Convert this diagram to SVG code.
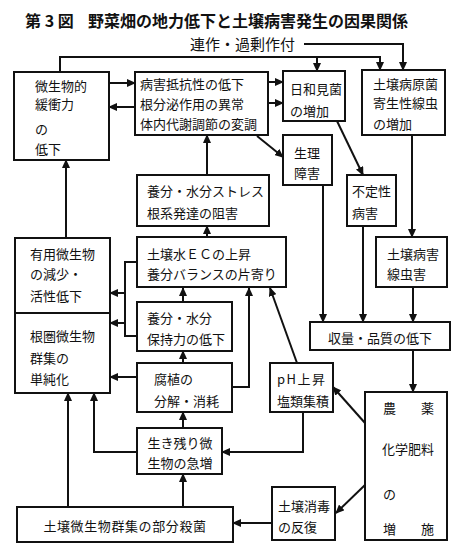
<svg xmlns="http://www.w3.org/2000/svg" width="465" height="555" viewBox="0 0 465 555">
<style>
text{font-family:"Noto Sans CJK JP","Noto Sans CJK SC",sans-serif;font-size:13px;fill:#111;dominant-baseline:central}
.title{font-size:16px;font-weight:bold}
.big{font-size:15px}
.box{fill:#fff;stroke:#111;stroke-width:2}
.c{fill:none;stroke:#111;stroke-width:2}
.a{marker-end:url(#ah)}
</style>
<defs>
<marker id="ah" markerUnits="userSpaceOnUse" markerWidth="9" markerHeight="8" refX="8" refY="4" orient="auto"><path d="M0,0 L9,4 L0,8 z" fill="#111"/></marker>
</defs>
<rect width="465" height="555" fill="#fff"/>
<g id="title"><text class="title" x="25" y="20">第 3 図</text><text class="title" x="88" y="20">野菜畑の地力低下と土壌病害発生の因果関係</text></g>
<g id="connectors">
<path class="c" d="M304,44 H403 V70"/><path class="c a" d="M403,60 V70"/>
<path class="c" d="M60,72 V57 H380 V70"/><path class="c a" d="M380,62 V70"/>
<path class="c a" d="M317,57 V71"/>
<path class="c a" d="M109,83 H135"/>
<path class="c a" d="M135,107 H109"/>
<path class="c a" d="M268,82 H283"/>
<path class="c a" d="M268,103 H283"/>
<path class="c a" d="M257,136 L283,157"/>
<path class="c a" d="M337,121 L363,175"/>
<path class="c a" d="M412,135 V237"/>
<path class="c a" d="M323,185 V322"/>
<path class="c a" d="M363,226 V322"/>
<path class="c a" d="M413,287 V322"/>
<path class="c a" d="M413,350 V392"/>
<path class="c a" d="M365,423 L333,387"/>
<path class="c a" d="M365,485 L336,513"/>
<path class="c a" d="M272,523 H233"/>
<path class="c a" d="M68,507 V393"/>
<path class="c a" d="M183,507 V474"/>
<path class="c" d="M137,452 H94 V400"/><path class="c a" d="M94,402 V393"/>
<path class="c" d="M303,412 V452 H230"/><path class="c a" d="M232,452 H222"/>
<path class="c a" d="M183,428 V412"/>
<path class="c a" d="M137,377 H110"/>
<path class="c" d="M232,387 H249 V296"/><path class="c a" d="M249,298 V288"/>
<path class="c a" d="M183,363 V351"/>
<path class="c a" d="M183,302 V288"/>
<path class="c" d="M137,262 H125 V336 H137"/>
<path class="c a" d="M125,293 H110"/>
<path class="c a" d="M125,323 H110"/>
<path class="c a" d="M297,363 L270,288"/>
<path class="c a" d="M207,237 V226"/>
<path class="c a" d="M207,175 V135"/>
<path class="c a" d="M66,238 V160"/>
</g>
<g id="n0"><text class="big" x="190" y="43">連作・過剰作付</text></g>
<g id="n1"><rect class="box" x="14" y="72" width="95" height="88"/><text x="35" y="85">微生物的</text><text x="35" y="103">緩衝力</text><text x="35" y="128">の</text><text x="35" y="148">低下</text></g>
<g id="n2"><rect class="box" x="135" y="72" width="133" height="63"/><text x="140" y="83">病害抵抗性の低下</text><text x="140" y="103">根分泌作用の異常</text><text x="140" y="123">体内代謝調節の変調</text></g>
<g id="n3"><rect class="box" x="283" y="71" width="62" height="50"/><text x="290" y="88">日和見菌</text><text x="290" y="110">の増加</text></g>
<g id="n4"><rect class="box" x="362" y="70" width="83" height="65"/><text x="373" y="83">土壌病原菌</text><text x="373" y="102">寄生性線虫</text><text x="373" y="123">の増加</text></g>
<g id="n5"><rect class="box" x="283" y="135" width="49" height="50"/><text x="294" y="152">生理</text><text x="294" y="172">障害</text></g>
<g id="n6"><rect class="box" x="347" y="175" width="49" height="51"/><text x="352" y="190">不定性</text><text x="352" y="212">病害</text></g>
<g id="n7"><rect class="box" x="376" y="237" width="71" height="50"/><text x="387" y="253">土壌病害</text><text x="387" y="273">線虫害</text></g>
<g id="n8"><rect class="box" x="310" y="322" width="140" height="28"/><text x="380" y="337" text-anchor="middle">収量・品質の低下</text></g>
<g id="n9"><rect class="box" x="365" y="392" width="82" height="148"/><text x="383" y="407">農</text><text x="421" y="407">薬</text><text x="382" y="448">化学肥料</text><text x="383" y="493">の</text><text x="383" y="528">増</text><text x="421" y="528">施</text></g>
<g id="n10"><rect class="box" x="270" y="363" width="63" height="49"/><text x="277" y="378" letter-spacing="1.5">pH上昇</text><text x="277" y="400">塩類集積</text></g>
<g id="n11"><rect class="box" x="272" y="487" width="63" height="53"/><text x="278" y="505">土壌消毒</text><text x="278" y="526">の反復</text></g>
<g id="n12"><rect class="box" x="17" y="507" width="216" height="35"/><text x="125" y="525" text-anchor="middle" letter-spacing="0.6">土壌微生物群集の部分殺菌</text></g>
<g id="n13"><rect class="box" x="137" y="428" width="85" height="46"/><text x="180" y="442" text-anchor="middle">生き残り微</text><text x="180" y="462" text-anchor="middle">生物の急増</text></g>
<g id="n14"><rect class="box" x="137" y="363" width="95" height="49"/><text x="154" y="378">腐植の</text><text x="154" y="400">分解・消耗</text></g>
<g id="n15"><rect class="box" x="137" y="302" width="95" height="49"/><text x="147" y="317">養分・水分</text><text x="147" y="338">保持力の低下</text></g>
<g id="n16"><rect class="box" x="137" y="237" width="149" height="50"/><text x="147" y="253">土壌水ＥＣの上昇</text><text x="147" y="273">養分バランスの片寄り</text></g>
<g id="n17"><rect class="box" x="137" y="175" width="132" height="51"/><text x="147" y="190">養分・水分ストレス</text><text x="147" y="212">根系発達の阻害</text></g>
<g id="n18"><rect class="box" x="15" y="238" width="95" height="155"/><line x1="15" y1="313" x2="110" y2="313" stroke="#111" stroke-width="2"/><text x="30" y="253">有用微生物</text><text x="30" y="273">の減少・</text><text x="30" y="295">活性低下</text><text x="30" y="335">根圏微生物</text><text x="30" y="357">群集の</text><text x="30" y="378">単純化</text></g>
</svg>
